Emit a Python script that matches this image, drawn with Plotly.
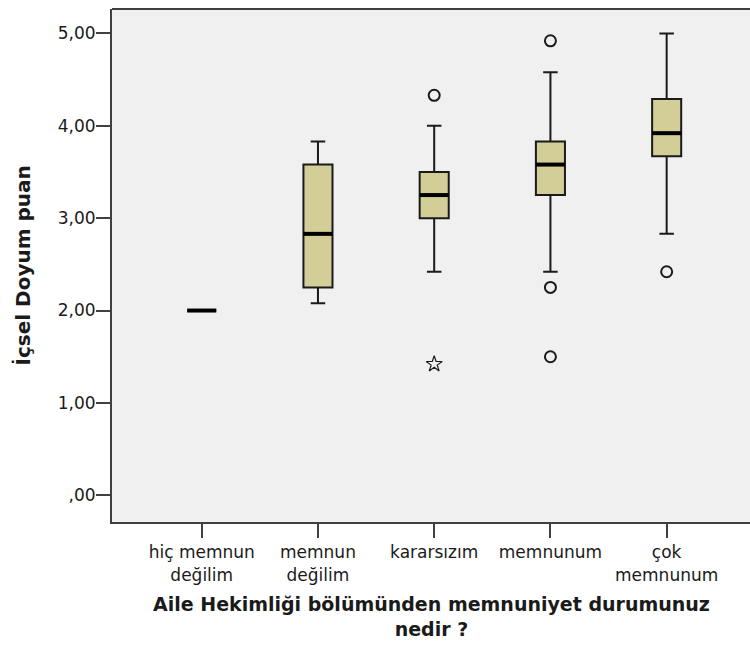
import plotly.graph_objects as go

# Satisfaction categories (x axis)
categories = ["hiç memnun<br>değilim", "memnun<br>değilim", "kararsızım", "memnunum", "çok<br>memnunum"]

# Five-number summaries of the score per category
lower_fence = [2.00, 2.08, 2.42, 2.42, 2.83]
q1 = [2.00, 2.25, 3.00, 3.25, 3.67]
median = [2.00, 2.83, 3.25, 3.58, 3.92]
q3 = [2.00, 3.58, 3.50, 3.83, 4.29]
upper_fence = [2.00, 3.83, 4.00, 4.58, 5.00]

# Outliers (circles) and extreme values (stars): category index, value
outlier_cat = [2, 3, 3, 3, 4]
outlier_val = [4.33, 4.92, 2.25, 1.50, 2.42]
extreme_cat = [2]
extreme_val = [1.42]

y_tickvals = [0, 1, 2, 3, 4, 5]
y_ticktext = [",00", "1,00", "2,00", "3,00", "4,00", "5,00"]

x_title = "Aile Hekimliği bölümünden memnuniyet durumunuz<br>nedir ?"
y_title = "İçsel Doyum puan"

BOX_W = 0.25
FILL = "#D3CE97"
EDGE = "#1a1a1a"
FRAME = "#404040"
FONT = "DejaVu Sans"

x_pos = list(range(len(categories)))

fig = go.Figure()

fig.add_trace(go.Box(
    x=x_pos,
    q1=q1, median=median, q3=q3,
    lowerfence=lower_fence, upperfence=upper_fence,
    width=BOX_W,
    whiskerwidth=0.5,
    fillcolor=FILL,
    line=dict(color=EDGE, width=2),
    boxpoints=False,
    showlegend=False,
    hoverinfo="skip",
))

# Thick median bars
mx, my = [], []
for i, m in zip(x_pos, median):
    mx += [i - BOX_W / 2, i + BOX_W / 2, None]
    my += [m, m, None]
fig.add_trace(go.Scatter(
    x=mx, y=my, mode="lines",
    line=dict(color="black", width=4),
    showlegend=False, hoverinfo="skip",
))

fig.add_trace(go.Scatter(
    x=outlier_cat, y=outlier_val, mode="markers",
    marker=dict(symbol="circle-open", size=11, color=EDGE, line=dict(width=2, color=EDGE)),
    showlegend=False, hoverinfo="skip",
))
fig.add_trace(go.Scatter(
    x=extreme_cat, y=extreme_val, mode="markers",
    marker=dict(symbol="star-open", size=12, color=EDGE, line=dict(width=1.2, color=EDGE)),
    showlegend=False, hoverinfo="skip",
))

annotations = [
    dict(text="<b>%s</b>" % y_title, xref="paper", yref="paper", x=-0.141, y=0.5,
         textangle=-90, showarrow=False, xanchor="center", yanchor="middle",
         font=dict(size=20)),
    dict(text="<b>%s</b>" % x_title, xref="paper", yref="paper", x=0.5, y=-0.1842,
         showarrow=False, xanchor="center", yanchor="middle", align="center",
         font=dict(size=19)),
]

fig.update_layout(
    width=750, height=648,
    margin=dict(l=112, r=0, t=9, b=126),
    paper_bgcolor="white",
    plot_bgcolor="#F0F0F0",
    font=dict(family=FONT, size=16, color="#1a1a1a"),
    xaxis=dict(
        range=[-0.772, 4.717],
        tickvals=x_pos, ticktext=categories,
        showgrid=False, zeroline=False,
        showline=True, linecolor=FRAME, linewidth=2,
        ticks="outside", ticklen=14, tickwidth=2, tickcolor=FRAME,
        tickfont=dict(size=17),
    ),
    yaxis=dict(
        range=[-0.289, 5.264],
        tickvals=y_tickvals, ticktext=y_ticktext,
        showgrid=False, zeroline=False,
        showline=True, linecolor=FRAME, linewidth=2,
        ticks="outside", ticklen=14, tickwidth=2, tickcolor=FRAME,
        tickfont=dict(size=17),
        ticklabelstandoff=-3,
    ),
    annotations=annotations,
    shapes=[dict(type="line", xref="paper", yref="paper", x0=0, x1=1, y0=1, y1=1,
                 line=dict(color=FRAME, width=2))],
)

fig.write_html("out.html")
